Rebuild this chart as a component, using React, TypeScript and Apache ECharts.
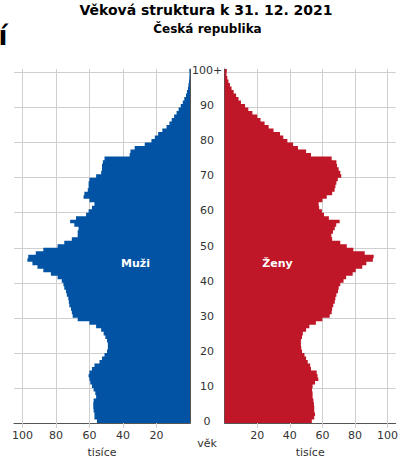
import React, { useEffect, useRef } from 'react';
import * as echarts from 'echarts';

const ages: string[] = Array.from({ length: 101 }, (_, i) => String(i));

const men: number[] = [
  55.5, 57, 57, 57.5, 57.7, 57.7, 57.5, 56, 56.5, 57.5,
  58.5, 59.5, 60, 60.5, 60, 58.5, 57, 54, 52.5, 51,
  49.5, 49, 49, 49.5, 50.5, 51.5, 53, 56, 60, 67,
  70, 70.5, 71, 72, 72.3, 72.6, 73.5, 74, 75, 75.5,
  76.5, 79, 83, 87.5, 91, 94, 97, 96.5, 92, 87.5,
  79, 75, 70.5, 67, 67, 66.5, 69, 71.5, 68, 62,
  60.5, 58.5, 57, 60, 63.5, 63, 61, 60.5, 60.5, 60,
  56, 53, 52.5, 52.5, 52, 51, 36, 35.5, 33, 27,
  23, 21, 19, 16.5, 14, 12.3, 10.9, 9.5, 8, 6.8,
  5.5, 4.3, 3.4, 2.4, 1.8, 1.2, 0.9, 0.6, 0.4, 0.3, 0.4,
];

const women: number[] = [
  53.5, 55, 55.5, 55, 55, 54.8, 54.5, 54, 54, 53.7,
  54, 55.5, 57.5, 57, 56.5, 53, 52.5, 51, 50, 49,
  47.5, 47, 46.8, 46.8, 47.5, 48, 50, 52, 56, 60,
  64.5, 65.7, 66, 66.7, 67.6, 68, 68.6, 69.6, 70, 71,
  73, 74.6, 78.6, 80.5, 84.5, 87, 91, 91.5, 86, 79,
  75, 71, 66, 65.5, 66.5, 67.6, 68.5, 70.6, 64, 61,
  59.7, 58, 57.7, 60, 62.7, 66, 67.5, 68, 68.6, 69.5,
  71.6, 71, 70, 69, 68.6, 65.7, 53, 50, 45, 42,
  38.5, 36, 34, 30, 27, 24.5, 22, 20, 17, 14.5,
  12.5, 10, 8.5, 7, 5.5, 4.2, 3.2, 2.3, 1.6, 1.1, 1.3,
];

const titleText = 'Věková struktura k 31. 12. 2021';
const subtitleText = 'Česká republika';
const menLabel = 'Muži';
const womenLabel = 'Ženy';
const unitLabel = 'tisíce';
const ageLabel = 'věk';

const BLUE = '#0353a4';
const RED = '#bf1727';
const GRID = '#cfcfcf';
const AXIS = '#555555';
const FONT = 'DejaVu Sans';

// One step-shaped polygon per sex, built from the values through the axes' scales
function pyramidRenderer(values: number[], color: string) {
  return (params: any, api: any) => {
    if (params.dataIndex !== 0) return null;
    const band = api.size([0, 1])[1];
    const half = band / 2;
    const base = api.coord([0, 0]);
    const pts: number[][] = [[base[0], base[1] + half]];
    for (let i = 0; i < values.length; i++) {
      const c = api.coord([values[i], i]);
      pts.push([c[0], c[1] + half]);
      pts.push([c[0], c[1] - half]);
    }
    const top = api.coord([0, values.length - 1]);
    pts.push([top[0], top[1] - half]);
    return {
      type: 'polygon',
      shape: { points: pts },
      style: { fill: color, stroke: null },
    };
  };
}

export default function App() {
  const ref = useRef<HTMLDivElement>(null);
  useEffect(() => {
    if (!ref.current) return;
    const chart = echarts.init(ref.current, undefined, { renderer: 'svg' });
    const xAxisCommon = (inverse: boolean, gridIndex: number) => ({
      type: 'value',
      gridIndex,
      inverse,
      min: 0,
      max: 105,
      interval: 20,
      axisLine: { show: true, lineStyle: { color: AXIS, width: 1.2 } },
      axisTick: { show: true, length: 5, lineStyle: { color: GRID } },
      axisLabel: {
        showMinLabel: false,
        showMaxLabel: false,
        color: '#333',
        fontSize: 11,
        fontFamily: FONT,
        margin: 7,
        formatter: (v: number) => (v === 0 || v > 100 ? '' : String(v)),
      },
      splitLine: { show: true, showMaxLine: false, lineStyle: { color: GRID, width: 1 } },
      name: unitLabel,
      nameLocation: 'middle',
      nameGap: 24,
      nameTextStyle: { color: '#333', fontSize: 11, fontFamily: FONT },
    });
    const yAxisCommon = (gridIndex: number, position: string, showLabel: boolean) => ({
      type: 'category',
      gridIndex,
      data: ages,
      position,
      boundaryGap: true,
      axisLine: { show: true, lineStyle: { color: AXIS } },
      axisTick: { show: false },
      axisLabel: {
        show: showLabel,
        interval: 9,
        align: 'center',
        margin: 17,
        color: '#333',
        fontSize: 11,
        fontFamily: FONT,
        padding: [3.5, 0, 0, 0],
        formatter: (v: string) => (v === '100' ? '100+' : v),
      },
      splitLine: { show: true, interval: 9, showMaxLine: false, lineStyle: { color: GRID, width: 1 } },
    });
    chart.setOption({
      animation: false,
      backgroundColor: '#ffffff',
      grid: [
        { left: 14, top: 69, width: 176, height: 355.5 },
        { left: 224.7, top: 69, width: 176.3, height: 355.5 },
      ],
      xAxis: [xAxisCommon(true, 0), xAxisCommon(false, 1)],
      yAxis: [yAxisCommon(0, 'right', true), yAxisCommon(1, 'left', false)],
      series: [
        {
          type: 'custom',
          name: menLabel,
          xAxisIndex: 0,
          yAxisIndex: 0,
          data: men.map((v, i) => [v, i]),
          encode: { x: 0, y: 1 },
          renderItem: pyramidRenderer(men, BLUE),
          z: 2,
        },
        {
          type: 'custom',
          name: womenLabel,
          xAxisIndex: 1,
          yAxisIndex: 1,
          data: women.map((v, i) => [v, i]),
          encode: { x: 0, y: 1 },
          renderItem: pyramidRenderer(women, RED),
          z: 2,
        },
      ],
      graphic: [
        {
          type: 'text', x: 206, y: 10,
          style: { text: titleText, fontFamily: FONT, fontWeight: 'bold', fontSize: 14, fill: '#000', align: 'center', verticalAlign: 'middle' },
        },
        {
          type: 'text', x: 207.5, y: 29,
          style: { text: subtitleText, fontFamily: FONT, fontWeight: 'bold', fontSize: 12, fill: '#000', align: 'center', verticalAlign: 'middle' },
        },
        {
          type: 'text', x: -1.5, y: 36,
          style: { text: 'í', fontFamily: FONT, fontWeight: 'bold', fontSize: 26, fill: '#000', align: 'left', verticalAlign: 'middle' },
        },
        {
          type: 'text', x: 207, y: 443,
          style: { text: ageLabel, fontFamily: FONT, fontSize: 11, fill: '#333', align: 'center', verticalAlign: 'middle' },
        },
        {
          type: 'text', x: 135.5, y: 263, z: 10,
          style: { text: menLabel, fontFamily: FONT, fontWeight: 'bold', fontSize: 11, fill: '#fff', align: 'center', verticalAlign: 'middle' },
        },
        {
          type: 'text', x: 277.5, y: 263, z: 10,
          style: { text: womenLabel, fontFamily: FONT, fontWeight: 'bold', fontSize: 11, fill: '#fff', align: 'center', verticalAlign: 'middle' },
        },
      ],
    });
    return () => chart.dispose();
  }, []);
  return (
    <div
      ref={ref}
      style={{ position: 'absolute', left: 0, top: 0, width: 401, height: 463, background: '#fff' }}
    />
  );
}
